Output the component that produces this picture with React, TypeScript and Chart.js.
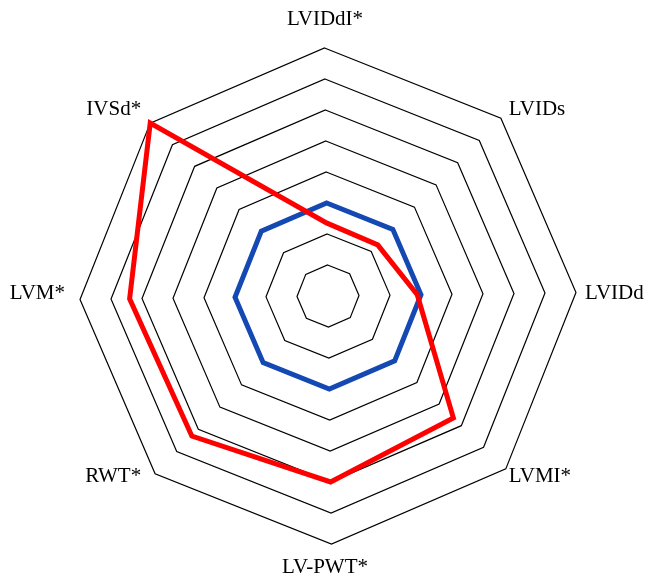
import React, { useEffect, useRef } from "react";
import { Chart, registerables } from "chart.js";

Chart.register(...registerables);

const categories = ["LVIDdI*", "LVIDs", "LVIDd", "LVMI*", "LV-PWT*", "RWT*", "LVM*", "IVSd*"];
const redValues = [2.35, 2.3, 2.88, 5.64, 6.0, 6.3, 6.4, 8.0];
const blueValues = [3, 3, 3, 3, 3, 3, 3, 3];
const scaleMin = 0;
const scaleMax = 8;
const scaleStep = 1;

const LABEL_FONT = '21px "Liberation Serif", "Times New Roman", serif';

const labelPlugin = {
  id: "axisLabels",
  afterDraw(chart: any) {
    const s = chart.scales.r;
    const ctx = chart.ctx;
    ctx.save();
    ctx.font = LABEL_FONT;
    ctx.fillStyle = "#000";
    const n = categories.length;
    const R = s.drawingArea + 12;
    const cx = s.xCenter - 3;
    const cy = s.yCenter - 3;
    categories.forEach((label, i) => {
      const a = -Math.PI / 2 + (i * 2 * Math.PI) / n;
      const c = Math.cos(a);
      const sn = Math.sin(a);
      const x = cx + c * R;
      let y = cy + sn * R;
      ctx.textAlign = c > 0.3 ? "left" : c < -0.3 ? "right" : "center";
      if (Math.abs(c) <= 0.3) y += sn * 14;
      ctx.textBaseline = "middle";
      ctx.fillText(label, x, y);
    });
    ctx.restore();
  },
};

export default function App() {
  const canvasRef = useRef<HTMLCanvasElement | null>(null);

  useEffect(() => {
    if (!canvasRef.current) return;
    const chart = new Chart(canvasRef.current, {
      type: "radar",
      data: {
        labels: categories,
        datasets: [
          {
            label: "Red",
            data: redValues,
            borderColor: "#ff0000",
            borderWidth: 5,
            fill: false,
            pointRadius: 0,
            borderJoinStyle: "miter",
          },
          {
            label: "Blue",
            data: blueValues,
            borderColor: "#1449b4",
            borderWidth: 5,
            fill: false,
            pointRadius: 0,
            borderJoinStyle: "miter",
          },
        ],
      },
      options: {
        animation: false,
        responsive: false,
        maintainAspectRatio: false,
        devicePixelRatio: 1,
        layout: { padding: { left: 80, right: 69, top: 48, bottom: 37 } },
        plugins: { legend: { display: false }, tooltip: { enabled: false } },
        elements: { line: { tension: 0 } },
        scales: {
          r: {
            min: scaleMin,
            max: scaleMax,
            startAngle: -0.8,
            ticks: { display: false, stepSize: scaleStep },
            grid: { color: "#000", lineWidth: 1.2, circular: false },
            angleLines: { display: false },
            pointLabels: { display: false },
          },
        },
      },
      plugins: [labelPlugin],
    });
    return () => chart.destroy();
  }, []);

  return (
    <div style={{ position: "absolute", left: 0, top: 0, width: 646, height: 581 }}>
      <canvas ref={canvasRef} width={646} height={581} style={{ display: "block" }} />
    </div>
  );
}
